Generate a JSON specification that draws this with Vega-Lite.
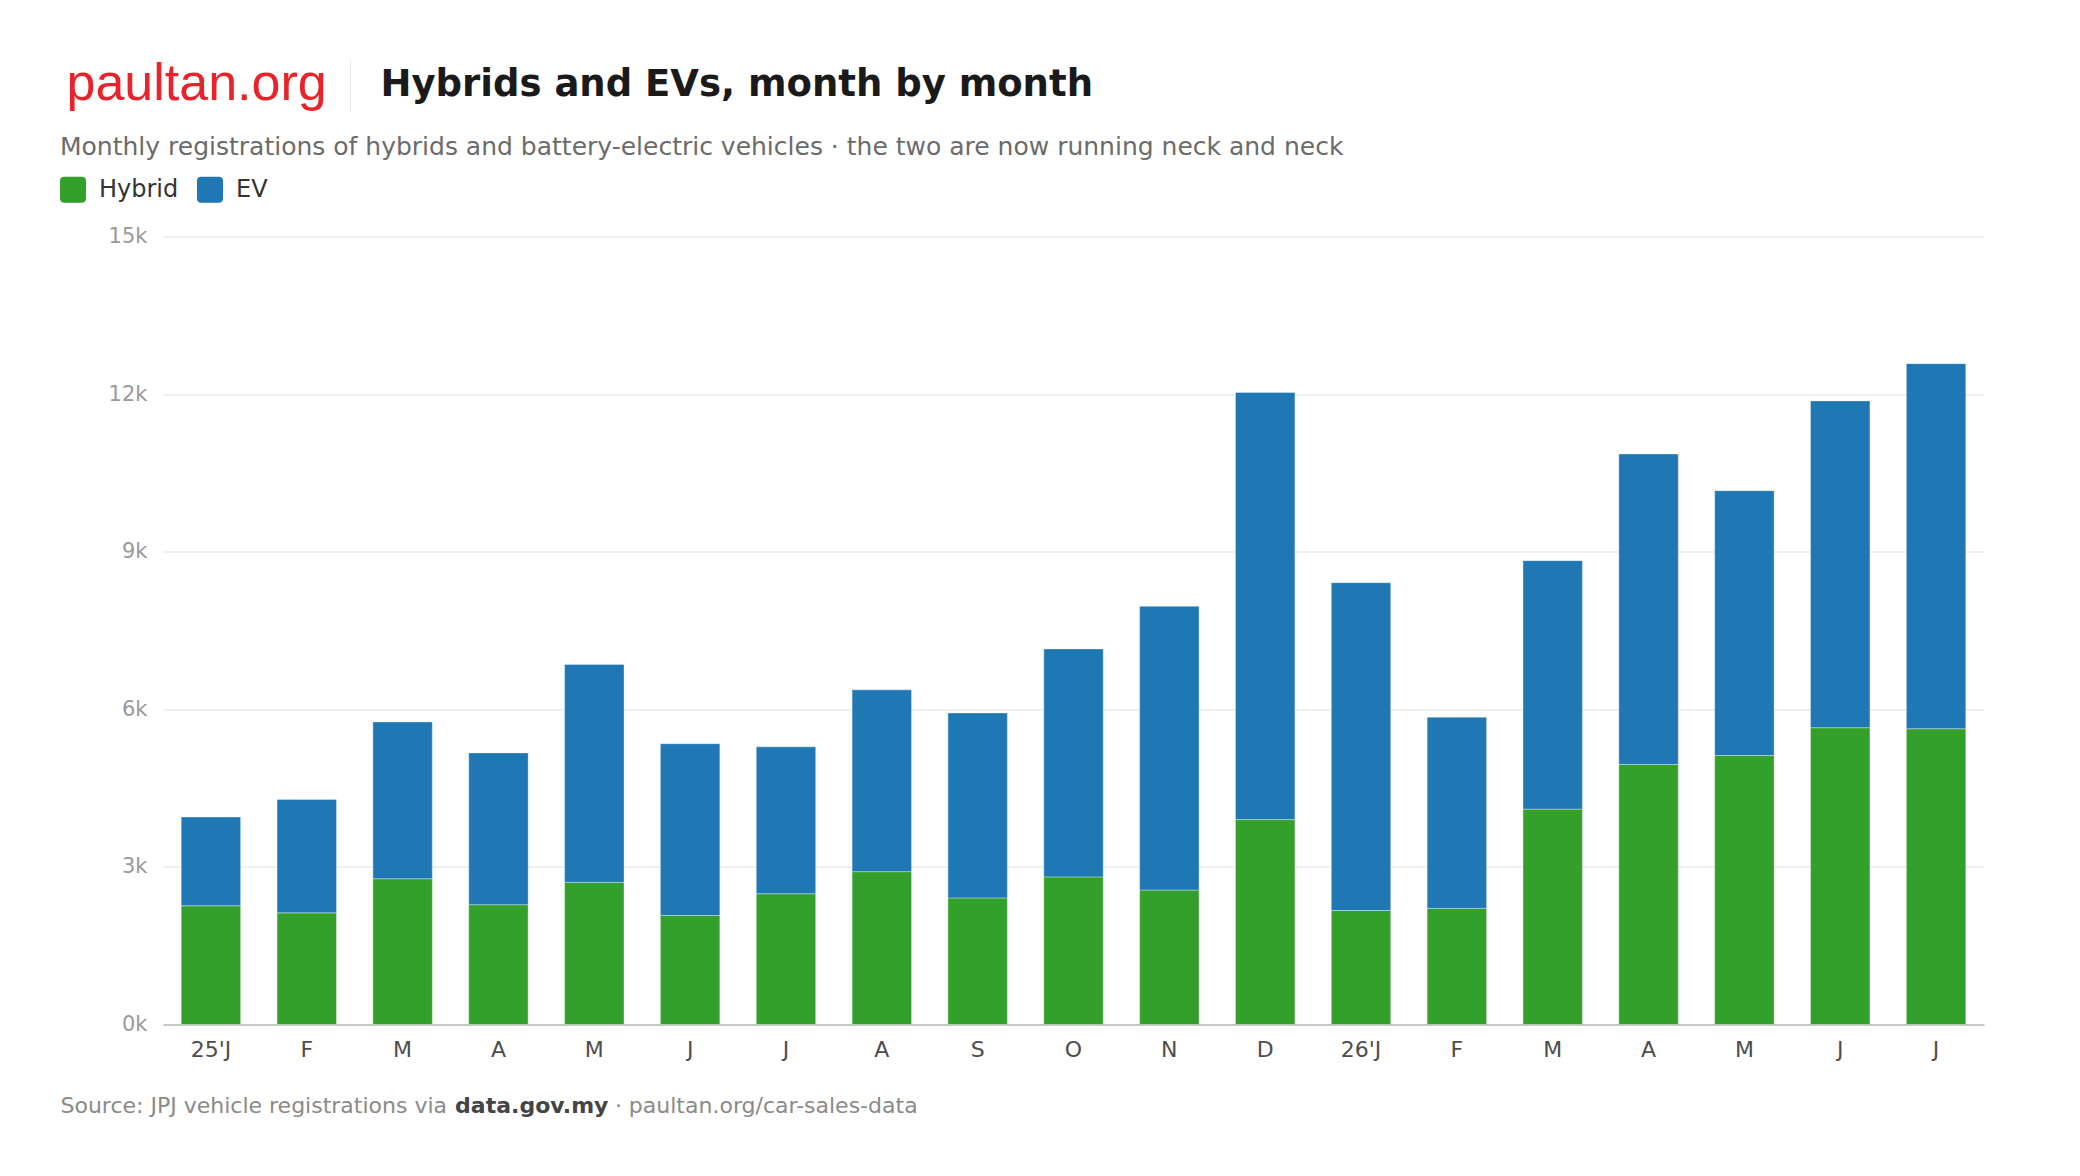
{
  "$schema": "https://vega.github.io/schema/vega-lite/v6.json",
  "width": 1821,
  "height": 788,
  "autosize": {"type": "none"},
  "padding": {"left": 163, "top": 236.5, "right": 96, "bottom": 151.5},
  "background": "#ffffff",
  "config": {"font": "DejaVu Sans", "view": {"stroke": null}},
  "title": {
    "text": "|",
    "anchor": "start",
    "frame": "group",
    "orient": "top",
    "offset": 0,
    "dx": 181,
    "dy": 102,
    "font": "Lato",
    "fontWeight": 100,
    "fontSize": 56,
    "color": "#d6d6d6",
    "baseline": "alphabetic"
  },
  "data": {
    "values": [
      {"month": "2025-01", "type": "Hybrid", "units": 2260}, {"month": "2025-01", "type": "EV", "units": 1690},
      {"month": "2025-02", "type": "Hybrid", "units": 2125}, {"month": "2025-02", "type": "EV", "units": 2160},
      {"month": "2025-03", "type": "Hybrid", "units": 2775}, {"month": "2025-03", "type": "EV", "units": 2985},
      {"month": "2025-04", "type": "Hybrid", "units": 2280}, {"month": "2025-04", "type": "EV", "units": 2890},
      {"month": "2025-05", "type": "Hybrid", "units": 2705}, {"month": "2025-05", "type": "EV", "units": 4150},
      {"month": "2025-06", "type": "Hybrid", "units": 2075}, {"month": "2025-06", "type": "EV", "units": 3270},
      {"month": "2025-07", "type": "Hybrid", "units": 2490}, {"month": "2025-07", "type": "EV", "units": 2795},
      {"month": "2025-08", "type": "Hybrid", "units": 2910}, {"month": "2025-08", "type": "EV", "units": 3460},
      {"month": "2025-09", "type": "Hybrid", "units": 2410}, {"month": "2025-09", "type": "EV", "units": 3520},
      {"month": "2025-10", "type": "Hybrid", "units": 2810}, {"month": "2025-10", "type": "EV", "units": 4340},
      {"month": "2025-11", "type": "Hybrid", "units": 2560}, {"month": "2025-11", "type": "EV", "units": 5400},
      {"month": "2025-12", "type": "Hybrid", "units": 3900}, {"month": "2025-12", "type": "EV", "units": 8130},
      {"month": "2026-01", "type": "Hybrid", "units": 2170}, {"month": "2026-01", "type": "EV", "units": 6240},
      {"month": "2026-02", "type": "Hybrid", "units": 2210}, {"month": "2026-02", "type": "EV", "units": 3640},
      {"month": "2026-03", "type": "Hybrid", "units": 4100}, {"month": "2026-03", "type": "EV", "units": 4730},
      {"month": "2026-04", "type": "Hybrid", "units": 4950}, {"month": "2026-04", "type": "EV", "units": 5910},
      {"month": "2026-05", "type": "Hybrid", "units": 5120}, {"month": "2026-05", "type": "EV", "units": 5040},
      {"month": "2026-06", "type": "Hybrid", "units": 5650}, {"month": "2026-06", "type": "EV", "units": 6220},
      {"month": "2026-07", "type": "Hybrid", "units": 5630}, {"month": "2026-07", "type": "EV", "units": 6950}
    ]
  },
  "layer": [
    {
      "mark": {"type": "bar", "stroke": "#ffffff", "strokeWidth": 1, "strokeOpacity": 0.35},
      "encoding": {
        "x": {
          "field": "month",
          "type": "nominal",
          "sort": null,
          "scale": {"paddingInner": 0.38, "paddingOuter": 0.19},
          "axis": {
            "orient": "bottom",
            "labelExpr": "substring(datum.value,5,7) == '01' ? substring(datum.value,2,4) + \"'J\" : substring('JFMAMJJASOND', toNumber(substring(datum.value,5,7)) - 1, toNumber(substring(datum.value,5,7)))",
            "labelAngle": 0,
            "labelFontSize": 22,
            "labelColor": "#4d4d4d",
            "labelPadding": 15,
            "ticks": false,
            "domain": true,
            "domainColor": "#c8c8c8",
            "domainWidth": 2,
            "grid": false,
            "title": "Source: JPJ vehicle registrations via \u00a0\u00a0\u00a0\u00a0\u00a0\u00a0\u00a0\u00a0\u00a0\u00a0\u00a0\u00a0\u00a0\u00a0\u00a0\u00a0\u00a0\u00a0\u00a0\u00a0\u00a0\u00a0 · paultan.org/car-sales-data",
            "titleFontSize": 22,
            "titleFontWeight": "normal",
            "titleColor": "#8a8a8a",
            "titleAlign": "left",
            "titleBaseline": "alphabetic",
            "titleX": -103,
            "titleY": 87.7,
            "titleLimit": 2000
          }
        },
        "y": {
          "field": "units",
          "type": "quantitative",
          "stack": "zero",
          "scale": {"domain": [0, 15000], "nice": false},
          "axis": {
            "orient": "left",
            "values": [0, 3000, 6000, 9000, 12000, 15000],
            "labelExpr": "(datum.value / 1000) + 'k'",
            "labelFontSize": 21,
            "labelColor": "#9a9a9a",
            "labelPadding": 16,
            "ticks": false,
            "domain": false,
            "grid": true,
            "gridColor": "#ebebeb",
            "gridWidth": 1.5,
            "title": "paultan.org",
            "titleFont": "Liberation Sans",
            "titleFontSize": 52,
            "titleFontWeight": "normal",
            "titleColor": "#e8232b",
            "titleAngle": 0,
            "titleAlign": "left",
            "titleBaseline": "alphabetic",
            "titleX": -97,
            "titleY": -137.2,
            "titleLimit": 2000
          }
        },
        "color": {
          "field": "type",
          "type": "nominal",
          "scale": {"domain": ["Hybrid", "EV"], "range": ["#33a02c", "#1f78b4"]},
          "legend": {
            "orient": "none",
            "legendX": -103,
            "legendY": -101.2,
            "direction": "horizontal",
            "title": "Monthly registrations of hybrids and battery-electric vehicles · the two are now running neck and neck",
            "titleFontSize": 25,
            "titleFontWeight": "normal",
            "titleColor": "#6b6b6b",
            "titlePadding": 16.4,
            "titleLimit": 2000,
            "labelFontSize": 24,
            "labelColor": "#333333",
            "labelOffset": 13,
            "columnPadding": 18,
            "symbolType": "M -0.68 -1 L 0.68 -1 Q 1 -1 1 -0.68 L 1 0.68 Q 1 1 0.68 1 L -0.68 1 Q -1 1 -1 0.68 L -1 -0.68 Q -1 -1 -0.68 -1 Z",
            "symbolSize": 676,
            "symbolStrokeWidth": 0,
            "symbolOpacity": 1
          }
        },
        "order": {"field": "type", "sort": "descending"}
      }
    },
    {
      "mark": {"type": "tick", "opacity": 0},
      "encoding": {
        "x": {
          "field": "month",
          "type": "nominal",
          "sort": null,
          "scale": {"paddingInner": 0.38, "paddingOuter": 0.19},
          "axis": {
            "orient": "bottom",
            "labels": false,
            "ticks": false,
            "domain": false,
            "grid": false,
            "title": "data.gov.my",
            "titleFontSize": 22,
            "titleFontWeight": "bold",
            "titleColor": "#444444",
            "titleAlign": "left",
            "titleBaseline": "alphabetic",
            "titleX": 291.6,
            "titleY": 87.7
          }
        },
        "y": {
          "field": "units",
          "type": "quantitative",
          "scale": {"domain": [0, 15000], "nice": false},
          "axis": {
            "orient": "left",
            "labels": false,
            "ticks": false,
            "domain": false,
            "grid": false,
            "title": "Hybrids and EVs, month by month",
            "titleFontSize": 37,
            "titleFontWeight": "bold",
            "titleColor": "#1a1a1a",
            "titleAngle": 0,
            "titleAlign": "left",
            "titleBaseline": "alphabetic",
            "titleX": 217,
            "titleY": -141.5,
            "titleLimit": 2000
          }
        }
      }
    }
  ],
  "resolve": {"axis": {"x": "independent", "y": "independent"}}
}
